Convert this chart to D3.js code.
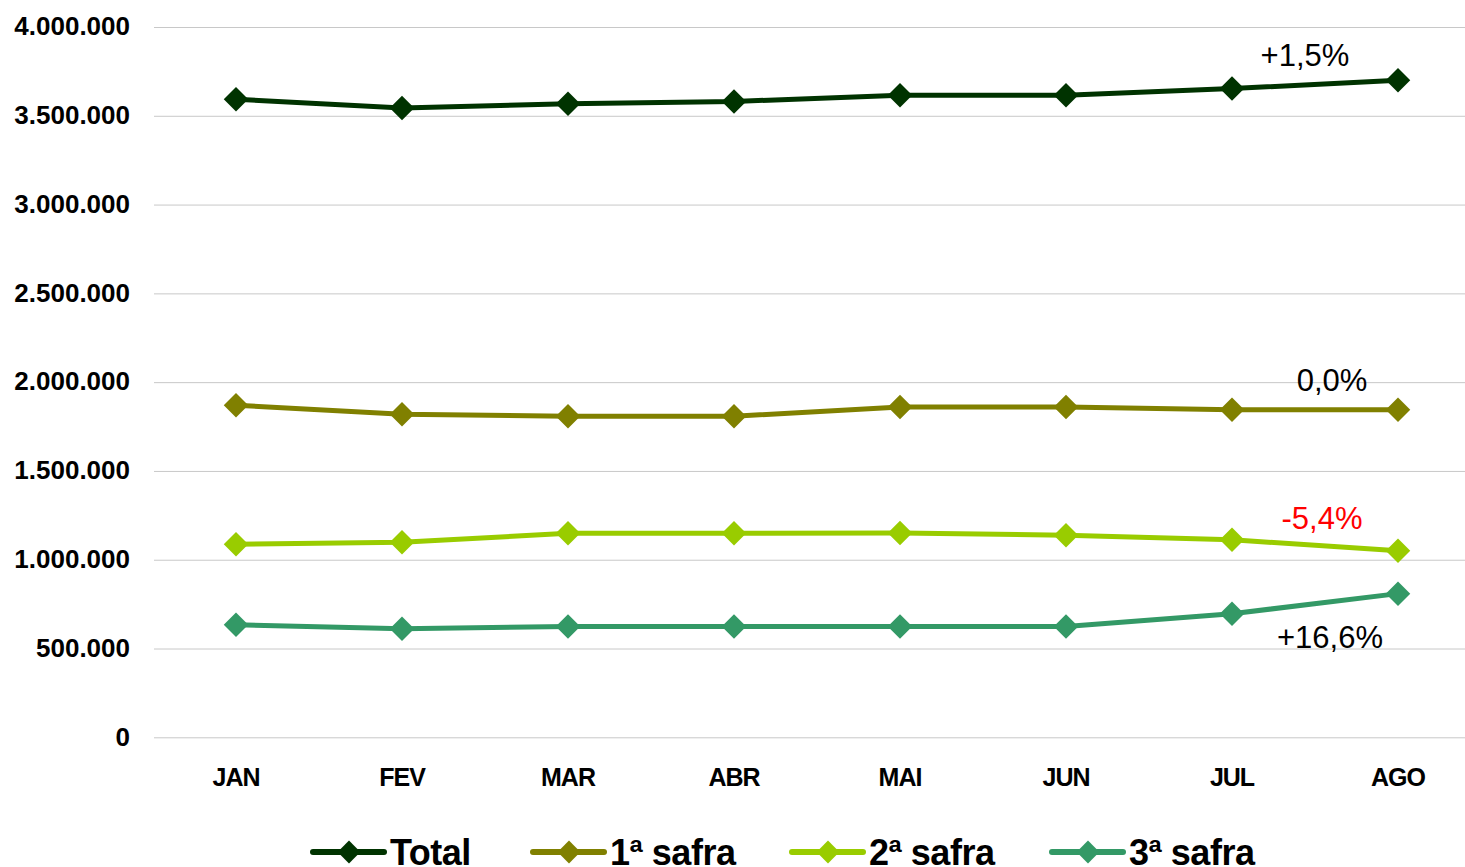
<!DOCTYPE html>
<html>
<head>
<meta charset="utf-8">
<script src="https://cdn.jsdelivr.net/npm/d3@7"></script>
<style>
  body { margin: 0; background: #fff; }
  svg { display: block; font-family: "Liberation Sans", Arial, sans-serif; }
</style>
</head>
<body>
<script>
  // months and series
  let months = ["JAN", "FEV", "MAR", "ABR", "MAI", "JUN", "JUL", "AGO"];
  let total = [3593000, 3544000, 3568000, 3581000, 3615000, 3615000, 3653000, 3700000];
  let safra1 = [1870000, 1819000, 1808000, 1808000, 1860000, 1860000, 1845000, 1845000];
  let safra2 = [1087000, 1098000, 1149000, 1149000, 1151000, 1138000, 1112000, 1051000];
  let safra3 = [634000, 611000, 624000, 624000, 624000, 624000, 696000, 809000];
  let yTicks = [0, 500000, 1000000, 1500000, 2000000, 2500000, 3000000, 3500000, 4000000];

  let seriesNames = ["Total", "1ª safra", "2ª safra", "3ª safra"];
  let seriesColors = ["#003300", "#808000", "#99cc00", "#339966"];
  let seriesValues = [total, safra1, safra2, safra3];

  // variation labels at the last point
  let noteTexts = ["+1,5%", "0,0%", "-5,4%", "+16,6%"];
  let noteColors = ["#000", "#000", "#ff0000", "#000"];

  let width = 1465, height = 867;

  let svg = d3.select("body").append("svg")
    .attr("width", width)
    .attr("height", height);

  let x = d3.scalePoint()
    .domain(months)
    .range([236, 1398]);

  let y = d3.scaleLinear()
    .domain([0, 4000000])
    .range([737.3, 27]);

  let ptBR = d3.formatLocale({ decimal: ",", thousands: ".", grouping: [3], currency: ["R$", ""] });
  let fmt = ptBR.format(",d");

  // grid lines + y labels
  let yAxis = d3.axisLeft(y)
    .tickValues(yTicks)
    .tickSize(-(width - 154))
    .tickPadding(24)
    .tickFormat(fmt);

  let gy = svg.append("g")
    .attr("transform", "translate(154,0)")
    .call(yAxis);
  gy.select(".domain").remove();
  gy.selectAll(".tick line")
    .attr("stroke", "#c8c8c8")
    .attr("stroke-width", 1);
  gy.selectAll(".tick text")
    .attr("fill", "#000")
    .attr("dy", "0.3em")
    .style("font-size", "26px")
    .style("font-weight", "bold");

  // x labels
  svg.append("g")
    .selectAll("text")
    .data(months)
    .enter()
    .append("text")
      .attr("x", (d) => x(d))
      .attr("y", 786)
      .attr("text-anchor", "middle")
      .style("font-size", "25px")
      .style("font-weight", "bold")
      .style("letter-spacing", "-1px")
      .text((d) => d);

  let diamond = d3.symbol().type(d3.symbolSquare).size(300);

  let line = d3.line()
    .x((d, i) => x(months[i]))
    .y((d) => y(d));

  // draw bottom series first so Total sits on top
  for (let s = seriesValues.length - 1; s >= 0; s--) {
    let g = svg.append("g");
    g.append("path")
      .datum(seriesValues[s])
      .attr("d", line)
      .attr("fill", "none")
      .attr("stroke", seriesColors[s])
      .attr("stroke-width", 5);

    g.selectAll(".pt")
      .data(seriesValues[s])
      .enter()
      .append("path")
        .attr("class", "pt")
        .attr("d", diamond)
        .attr("transform", (d, i) => "translate(" + x(months[i]) + "," + y(d) + ") rotate(45)")
        .attr("fill", seriesColors[s]);
  }

  // variation notes near AGO
  let notePos = [[1305, 66], [1332, 391], [1322, 529], [1330, 648]];
  svg.append("g")
    .selectAll("text")
    .data(noteTexts)
    .enter()
    .append("text")
      .attr("x", (d, i) => notePos[i][0])
      .attr("y", (d, i) => notePos[i][1])
      .attr("text-anchor", "middle")
      .attr("fill", (d, i) => noteColors[i])
      .style("font-size", "31px")
      .text((d) => d);

  // legend
  let legendX = [313, 533, 792, 1052];
  let legend = svg.append("g")
    .selectAll("g")
    .data(seriesNames)
    .enter()
    .append("g")
      .attr("transform", (d, i) => "translate(" + legendX[i] + ",852)");

  legend.append("line")
    .attr("x1", 0)
    .attr("x2", 71)
    .attr("stroke", (d, i) => seriesColors[i])
    .attr("stroke-width", 6)
    .attr("stroke-linecap", "round");

  legend.append("path")
    .attr("d", d3.symbol().type(d3.symbolSquare).size(260))
    .attr("transform", "translate(36,0) rotate(45)")
    .attr("fill", (d, i) => seriesColors[i]);

  legend.append("text")
    .attr("x", 77)
    .attr("y", 13)
    .style("font-size", "36px")
    .style("font-weight", "bold")
    .style("letter-spacing", "-0.5px")
    .text((d) => d);
</script>
</body>
</html>
